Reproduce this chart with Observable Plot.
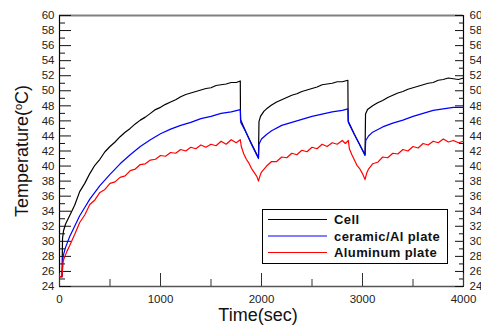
<!DOCTYPE html>
<html><head><meta charset="utf-8">
<script src="https://cdn.jsdelivr.net/npm/d3@7"></script>
<script src="https://cdn.jsdelivr.net/npm/@observablehq/plot@0.6"></script>
<style>body{margin:0;background:#fff} svg{display:block}</style>
</head><body><div id="chart"></div>
<script>
// ---- data: [time (sec), temperature (°C)] ----
const cellData = [
[0,25.3],[25,25.3],[30,30.4],[40,31.4],[60,32.3],[100,33.4],[150,34.8],[200,36.6],[250,37.7],[300,39.0],
[350,40.1],[400,40.9],[450,41.9],[500,42.6],[550,43.2],[600,43.9],[650,44.5],[700,45.0],[750,45.6],[800,46.1],
[850,46.5],[900,47.0],[950,47.5],[1000,47.8],[1050,48.2],[1100,48.5],[1150,48.8],[1200,49.2],[1250,49.5],[1300,49.7],
[1350,49.9],[1400,50.1],[1450,50.3],[1500,50.4],[1550,50.7],[1600,50.8],[1650,50.9],[1700,51.1],[1750,51.1],[1790,51.3],
[1792,46.2],[1850,44.4],[1900,43.0],[1970,41.1],[1975,45.9],[1990,46.6],[2025,47.3],[2050,47.6],[2100,48.1],[2150,48.5],
[2200,48.8],[2250,49.1],[2300,49.4],[2350,49.6],[2400,49.9],[2450,50.1],[2500,50.3],[2550,50.5],[2600,50.8],[2650,50.9],
[2700,51.0],[2750,51.2],[2800,51.2],[2855,51.4],[2858,46.0],[2920,44.2],[2970,42.9],[3025,41.5],[3030,46.9],[3050,47.5],
[3100,48.0],[3150,48.4],[3200,48.7],[3250,49.1],[3300,49.4],[3350,49.7],[3400,49.9],[3450,50.2],[3500,50.4],[3550,50.6],
[3600,50.8],[3650,51.0],[3700,51.1],[3750,51.4],[3800,51.5],[3850,51.7],[3900,51.6],[3950,51.5],[4000,51.7]
];
const ceramicData = [
[0,25.3],[25,25.3],[35,28.0],[60,29.2],[100,30.6],[150,32.0],[200,33.4],[250,34.5],[300,35.6],[400,37.4],
[500,38.9],[600,40.3],[700,41.5],[800,42.6],[900,43.5],[1000,44.3],[1100,44.9],[1200,45.4],[1300,45.8],[1400,46.3],
[1500,46.6],[1600,47.0],[1700,47.2],[1790,47.5],[1795,45.8],[1850,44.4],[1900,42.9],[1970,41.0],[1975,42.9],[2000,43.6],
[2050,44.2],[2100,44.7],[2200,45.4],[2300,45.8],[2400,46.2],[2500,46.6],[2600,46.9],[2700,47.2],[2800,47.4],[2855,47.6],
[2860,45.8],[2920,44.2],[2970,42.9],[3025,41.4],[3032,43.4],[3060,44.0],[3100,44.5],[3200,45.2],[3300,45.7],[3400,46.1],
[3500,46.6],[3600,47.0],[3700,47.4],[3800,47.6],[3900,47.8],[4000,47.8]
];
const aluminumData = [
[0,25.3],[25,25.3],[35,27.3],[50,27.9],[75,28.7],[100,29.4],[150,30.9],[200,32.5],[250,33.5],[300,34.9],
[350,35.5],[400,36.5],[450,36.9],[500,37.7],[550,37.9],[600,38.5],[650,38.7],[700,39.4],[750,39.6],[800,40.2],
[850,40.3],[900,40.8],[950,40.9],[1000,41.4],[1050,41.3],[1100,41.8],[1150,41.7],[1200,42.2],[1250,42.0],[1300,42.5],
[1350,42.3],[1400,42.8],[1450,42.5],[1500,42.9],[1550,42.7],[1600,43.3],[1650,42.9],[1700,43.5],[1750,43.1],[1790,43.5],
[1800,42.6],[1825,41.6],[1850,40.9],[1875,40.4],[1900,39.7],[1930,39.1],[1955,38.6],[1970,38.0],[1985,38.7],[2000,39.2],
[2025,39.6],[2050,40.0],[2100,40.6],[2150,40.6],[2200,41.2],[2250,41.1],[2300,41.7],[2350,41.5],[2400,42.1],[2450,41.9],
[2500,42.5],[2550,42.3],[2600,42.9],[2650,42.6],[2700,43.1],[2750,42.9],[2800,43.4],[2830,43.0],[2860,43.4],[2870,42.3],
[2895,41.5],[2920,40.8],[2945,40.1],[2970,39.7],[3000,39.0],[3025,38.2],[3040,39.0],[3060,39.6],[3100,40.3],[3150,40.5],
[3200,41.2],[3250,41.1],[3300,41.7],[3350,41.6],[3400,42.2],[3450,42.0],[3500,42.6],[3550,42.4],[3600,43.0],[3650,42.8],
[3700,43.3],[3750,43.1],[3800,43.6],[3850,43.2],[3900,43.4],[3950,43.1],[4000,43.3]
];
const seriesNames = ["Cell", "ceramic/Al plate", "Aluminum plate"];
const seriesColors = ["#000000", "#0000ff", "#ff0000"];
const xDomain = [0, 4000];
const yDomain = [24, 60];
const xMajor = [0, 1000, 2000, 3000, 4000];
const xMinor = [500, 1500, 2500, 3500];
const yMajor = d3.range(24, 61, 2);
const yMinor = d3.range(25, 60, 2);

const rows = (arr) => arr.map(([t, v]) => ({t, v}));
const seriesData = [cellData, ceramicData, aluminumData];

const font = "'Liberation Sans', Arial, sans-serif";
const blank = () => "";
const plain = d => String(d);

const plot = Plot.plot({
  width: 481, height: 329,
  marginLeft: 59, marginRight: 18, marginTop: 15, marginBottom: 43,
  style: {fontFamily: font, fontSize: "11.5px", color: "#222", background: "#fff"},
  x: {domain: xDomain, label: null},
  y: {domain: yDomain, label: null},
  marks: [
    // frame
    Plot.ruleY([yDomain[1]], {stroke: "#808080", strokeWidth: 2}),
    Plot.ruleY([yDomain[0]], {stroke: "#555", strokeWidth: 1.5}),
    Plot.ruleX([xDomain[0]], {stroke: "#000", strokeWidth: 1.2}),
    Plot.ruleX([xDomain[1]], {stroke: "#000", strokeWidth: 1.2}),
    // inward ticks
    Plot.axisY({anchor: "left", ticks: yMajor, tickSize: -12, tickFormat: blank, stroke: "#111"}),
    Plot.axisY({anchor: "left", ticks: yMinor, tickSize: -6, tickFormat: blank, stroke: "#111"}),
    Plot.axisY({anchor: "right", ticks: yMajor, tickSize: -9, tickFormat: blank, stroke: "#111"}),
    Plot.axisY({anchor: "right", ticks: yMinor, tickSize: -5, tickFormat: blank, stroke: "#111"}),
    Plot.axisX({anchor: "bottom", ticks: xMajor, tickSize: -13, tickFormat: blank, stroke: "#333"}),
    Plot.axisX({anchor: "bottom", ticks: xMinor, tickSize: -7, tickFormat: blank, stroke: "#333"}),
    // tick labels
    Plot.axisY({anchor: "left", ticks: yMajor, tickSize: 0, tickPadding: 5, tickFormat: plain}),
    Plot.axisY({anchor: "right", ticks: yMajor, tickSize: 0, tickPadding: 6, tickFormat: plain}),
    Plot.axisX({anchor: "bottom", ticks: xMajor, tickSize: 0, tickPadding: 8, tickFormat: plain}),
    // series
    ...seriesData.map((d, i) => Plot.line(rows(d), {x: "t", y: "v", stroke: seriesColors[i], strokeWidth: 1.2}))
  ]
});
document.getElementById("chart").appendChild(plot);

const svg = d3.select(plot);
// axis titles
const yt = svg.append("text")
  .attr("transform", "translate(28,151) rotate(-90)")
  .attr("text-anchor", "middle")
  .style("font-family", font).style("font-size", "18px").attr("fill", "#111");
yt.append("tspan").text("Temperature(");
yt.append("tspan").attr("font-size", "11px").attr("dy", -6).text("o");
yt.append("tspan").attr("dy", 6).text("C)");
svg.append("text")
  .attr("x", 258).attr("y", 321)
  .attr("text-anchor", "middle")
  .style("font-family", font).style("font-size", "18px").attr("fill", "#111")
  .text("Time(sec)");

// legend
const lg = svg.append("g").attr("text-anchor", "start");
lg.append("rect").attr("x", 262.5).attr("y", 209.5).attr("width", 185).attr("height", 54)
  .attr("fill", "#fff").attr("stroke", "#000").attr("stroke-width", 1);
seriesNames.forEach((name, i) => {
  const y = 219.5 + i * 16.5;
  lg.append("line").attr("x1", 268).attr("x2", 327).attr("y1", y).attr("y2", y)
    .attr("stroke", seriesColors[i]).attr("stroke-width", 1);
  lg.append("text").attr("x", 334).attr("y", y + 4.5).attr("text-anchor", "start")
    .style("font-family", font).style("font-size", "13px").style("font-weight", "bold")
    .style("letter-spacing", "0.4px").attr("fill", "#111").text(name);
});
</script>
</body></html>
